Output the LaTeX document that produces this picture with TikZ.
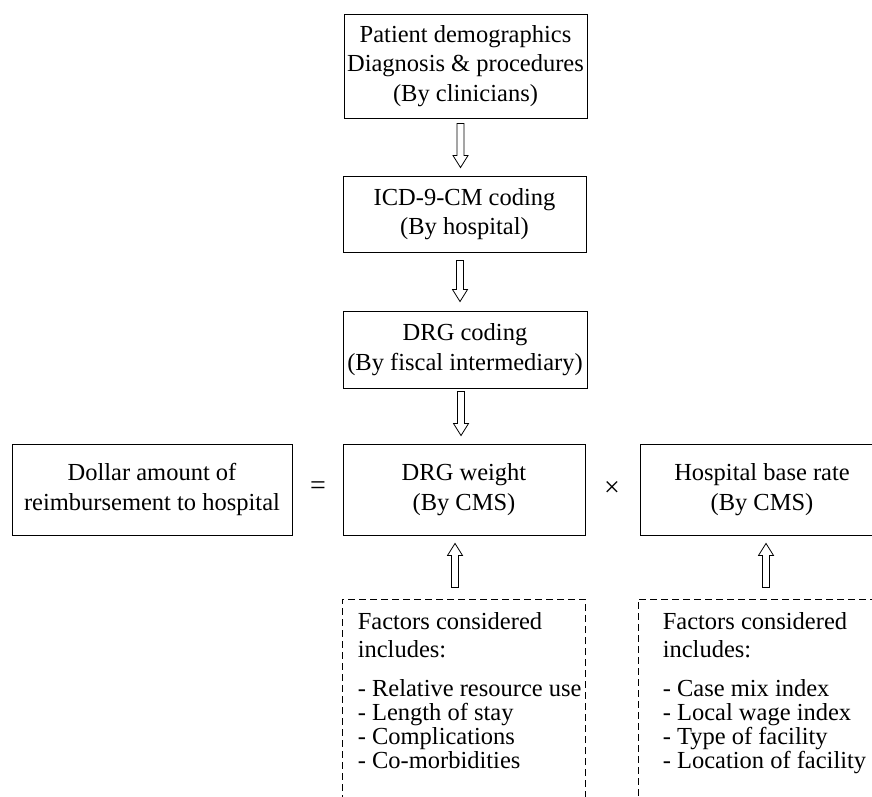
\documentclass[tikz,border=0pt]{standalone}
\usepackage{fontspec}
\setmainfont{Liberation Serif}
\usetikzlibrary{calc}
\newcommand\hdown[2]{\draw[harrow] let \p1=#1, \p2=#2 in
  (\x1-3.5pt,\y1) -- (\x1-3.5pt,\y2+12pt) -- (\x1-7.5pt,\y2+12pt) -- (\x1,\y2)
  -- (\x1+7.5pt,\y2+12pt) -- (\x1+3.5pt,\y2+12pt) -- (\x1+3.5pt,\y1) -- cycle;}
\newcommand\hup[2]{\draw[harrow] let \p1=#1, \p2=#2 in
  (\x1-3.5pt,\y1) -- (\x1-3.5pt,\y2-12pt) -- (\x1-7.5pt,\y2-12pt) -- (\x1,\y2)
  -- (\x1+7.5pt,\y2-12pt) -- (\x1+3.5pt,\y2-12pt) -- (\x1+3.5pt,\y1) -- cycle;}
\begin{document}
\begin{tikzpicture}[x=1pt,y=-1pt,
  box/.style={draw, line width=0.9pt, inner sep=0pt, align=center,
    font=\fontsize{24.5}{29.5}\selectfont},
  facbox/.style={draw, dash pattern=on 7pt off 4pt, line width=0.9pt, inner sep=0pt},
  factext/.style={anchor=north west, align=left, inner sep=0pt,
    font=\fontsize{24.5}{24}\selectfont},
  harrow/.style={draw, line width=0.8pt, fill=white},
  op/.style={font=\fontsize{28}{28}\selectfont, inner sep=0pt}]
\path[use as bounding box, clip] (0,0) rectangle (872,797);
\fill[white] (0,0) rectangle (872,797);

\node[box, minimum width=243pt, minimum height=104pt] (b1) at (465.5,66)
  {Patient demographics\\Diagnosis \& procedures\\(By clinicians)};
\node[box, minimum width=243pt, minimum height=76pt] (b2) at (464.5,214)
  {ICD-9-CM coding\\(By hospital)};
\node[box, minimum width=244pt, minimum height=77pt] (b3) at (465,349.5)
  {DRG coding\\(By fiscal intermediary)};

\node[box, minimum width=280pt, minimum height=91pt] (dol) at (152,489.5)
  {Dollar amount of\\reimbursement to hospital};
\node[box, minimum width=242pt, minimum height=91pt] (drgw) at (464,489.5)
  {DRG weight\\(By CMS)};
\node[box, minimum width=244pt, minimum height=91pt] (hosp) at (762,489.5)
  {Hospital base rate\\(By CMS)};
\node[op] (eq) at (318,488) {=};
\node[op] (tm) at (612,489) {×};

\node[facbox, minimum width=243pt, minimum height=231pt] (f1) at (463.5,714.5) {};
\node[facbox, minimum width=246pt, minimum height=231pt] (f2) at (761,714.5) {};
\node[factext] (t1) at ($(f1.north west)+(16,14)$)
  {Factors considered\\[4pt]includes:\\[15pt]- Relative resource use\\- Length of stay\\- Complications\\- Co-morbidities};
\node[factext] (t2) at ($(f2.north west)+(25,14)$)
  {Factors considered\\[4pt]includes:\\[15pt]- Case mix index\\- Local wage index\\- Type of facility\\- Location of facility};

\hdown{($(b1.south)+(-5,5)$)}{($(b2.north)+(-5,-8)$)}
\hdown{($(b2.south)+(-4.5,8)$)}{($(b3.north)+(-5,-9)$)}
\hdown{($(b3.south)+(-4,3)$)}{($(drgw.north)+(-3,-8)$)}
\hup{($(f1.north)+(-8.5,-11)$)}{($(drgw.south)+(-9,8)$)}
\hup{($(f2.north)+(5,-11)$)}{($(hosp.south)+(4,8)$)}
\end{tikzpicture}
\end{document}
